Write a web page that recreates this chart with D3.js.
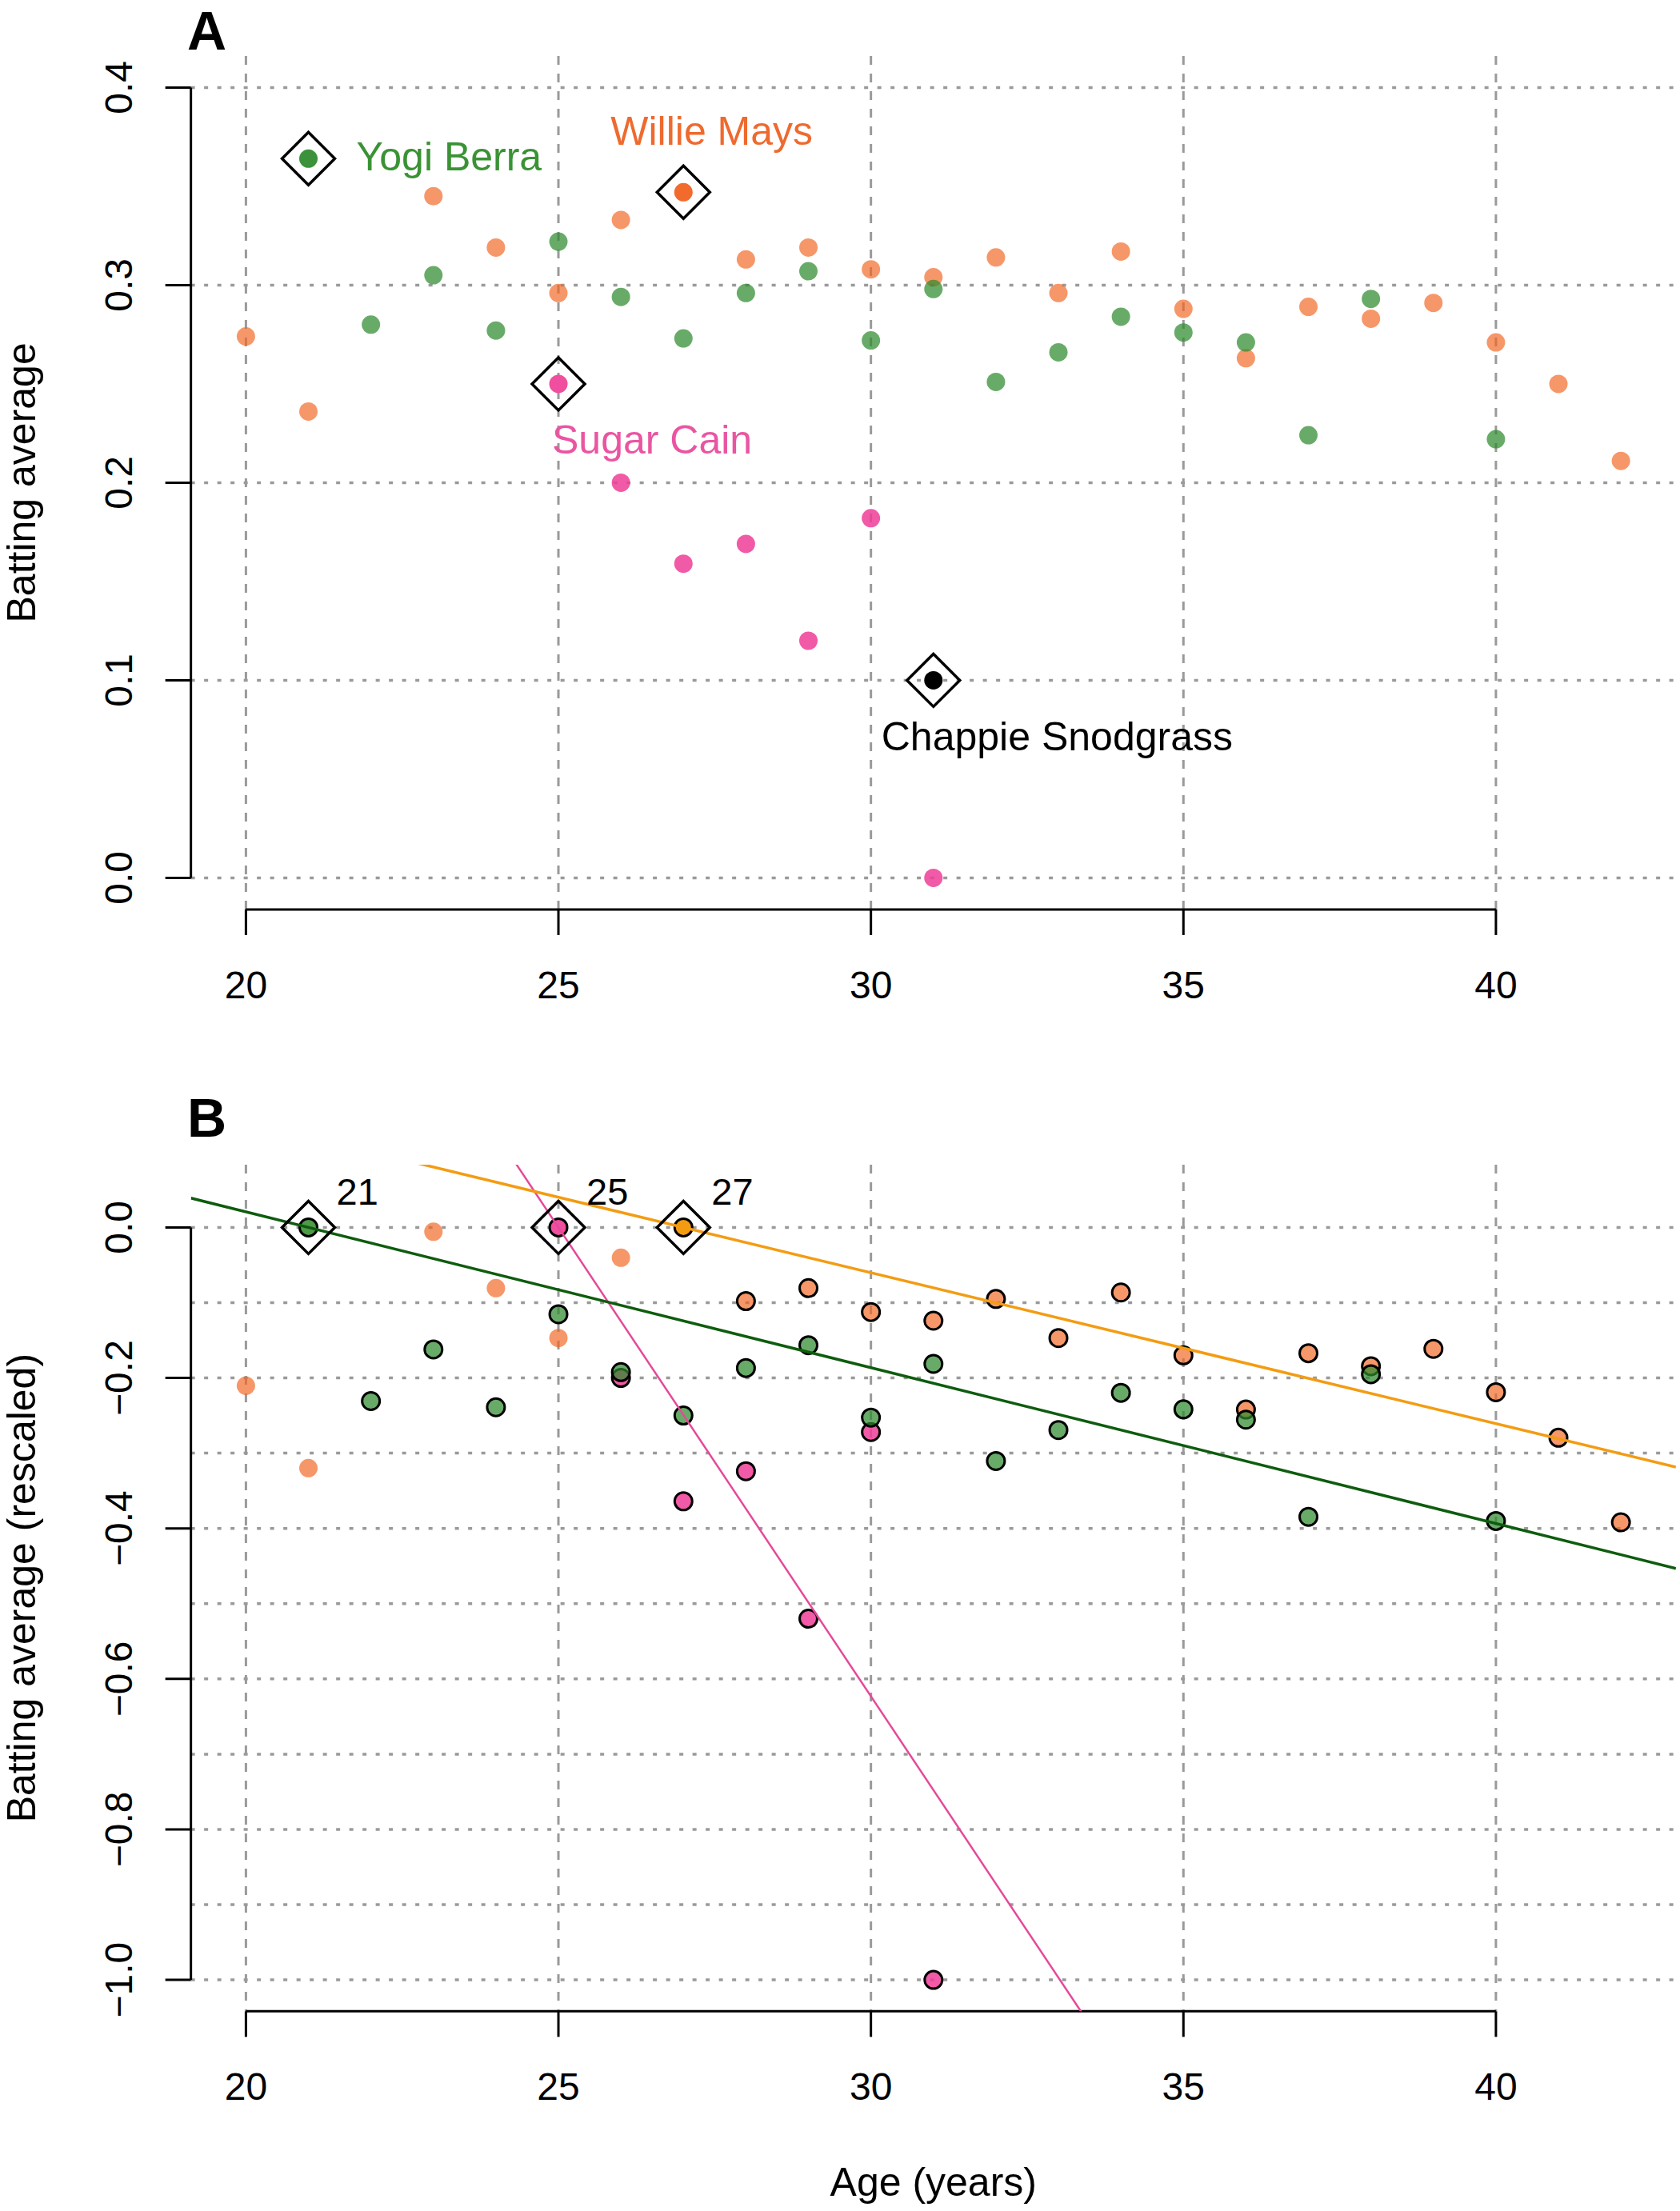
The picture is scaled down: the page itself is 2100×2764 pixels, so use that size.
<!DOCTYPE html>
<html>
<head>
<meta charset="utf-8">
<script src="https://cdn.jsdelivr.net/npm/d3@7"></script>
<style>
  body { margin: 0; background: #fff; }
  svg { display: block; }
  text { font-family: "Liberation Sans", Arial, Helvetica, sans-serif; }
</style>
</head>
<body>
<div id="content"></div>
<script>
// ---- data (season batting averages by age) ----
const maysAges = [20, 21, 23, 24, 25, 26, 27, 28, 29, 30, 31, 32, 33, 34, 35, 36, 37, 38, 39, 40, 41, 42];
const maysAvg  = [.274, .236, .345, .319, .296, .333, .347, .313, .319, .308, .304, .314, .296, .317, .288, .263, .289, .283, .291, .271, .250, .211];

const berraAges = [21, 22, 23, 24, 25, 26, 27, 28, 29, 30, 31, 32, 33, 34, 35, 36, 37, 38, 40];
const berraAvg  = [.364, .280, .305, .277, .322, .294, .273, .296, .307, .272, .298, .251, .266, .284, .276, .271, .224, .293, .222];

const cainAges = [25, 26, 27, 28, 29, 30, 31];
const cainAvg  = [.250, .200, .159, .169, .120, .182, .000];

const snodgrassAges = [31];
const snodgrassAvg  = [.100];

const xTicks  = [20, 25, 30, 35, 40];
const yTicksA = [0, 0.1, 0.2, 0.3, 0.4];
const yTicksB = [0, -0.2, -0.4, -0.6, -0.8, -1.0];
const yGridB  = [0, -0.1, -0.2, -0.3, -0.4, -0.5, -0.6, -0.7, -0.8, -0.9, -1.0];

// ---- series table (style lives here, values come from the arrays) ----
const series = [
  {name: "Sugar Cain", ages: cainAges, avg: cainAvg, fill: "#EE3D96", op: 0.85,
   hiA: "#F04E9E", hiB: "#F04E9E", line: "#E8489A", lineW: 2.5, labelColor: "#EA55A2", dx: -8, dy: 87},
  {name: "Willie Mays", ages: maysAges, avg: maysAvg, fill: "#F26522", op: 0.68,
   hiA: "#F26A2C", hiB: "#F59B12", line: "#F39C12", lineW: 3.5, labelColor: "#EE6A2E", dx: -91, dy: -59},
  {name: "Yogi Berra", ages: berraAges, avg: berraAvg, fill: "#2E8B2E", op: 0.72,
   hiA: "#3C923A", hiB: "#4E9A48", line: "#0E5C0E", lineW: 3.5, labelColor: "#3A9234", dx: 60, dy: 15}
];
const snodgrass = {name: "Chappie Snodgrass", ages: snodgrassAges, avg: snodgrassAvg, labelColor: "#000", dx: -65, dy: 88};

series.forEach(s => {
  s.pts = s.ages.map((a, i) => ({age: a, v: s.avg[i]}));
  const pk = d3.greatest(s.pts, d => d.v);
  s.peakAge = pk.age; s.peak = pk.v;
  s.pts.forEach(d => { d.r = d.v / s.peak - 1; });
  // least squares through the peak, using the seasons from the peak on
  const after = s.pts.filter(d => d.age >= s.peakAge);
  s.slope = d3.sum(after, d => (d.age - s.peakAge) * d.r) / d3.sum(after, d => (d.age - s.peakAge) ** 2);
});

const W = 2100, H = 2764;
const svg = d3.select('#content').append('svg')
  .attr('width', W).attr('height', H)
  .attr('viewBox', `0 0 ${W} ${H}`);

const x = d3.scaleLinear().domain([20, 40]).range([307.4, 1869.9]);
const xLo = x(19.12), xHi = x(42.88);

const yA = d3.scaleLinear().domain([0, 0.4]).range([1097.4, 109.4]);
const yB = d3.scaleLinear().domain([-1, 0]).range([2475.1, 1534.4]);

const fmt = d3.format(".1f");
const R = 11.5;

function frame(y, top, bottom, yTicks, yGrid, yLabel, letter, letterY) {
  const g = svg.append('g');
  // grid
  g.selectAll(null).data(yGrid).join('line')
    .attr('x1', xLo).attr('x2', xHi)
    .attr('y1', d => y(d)).attr('y2', d => y(d))
    .attr('stroke', '#9a9a9a').attr('stroke-width', 3.5)
    .attr('stroke-dasharray', '5 11.5');
  g.selectAll(null).data(xTicks).join('line')
    .attr('x1', d => x(d)).attr('x2', d => x(d))
    .attr('y1', top).attr('y2', bottom)
    .attr('stroke', '#9a9a9a').attr('stroke-width', 3)
    .attr('stroke-dasharray', '11 11');

  // y axis
  g.append('line')
    .attr('x1', xLo).attr('x2', xLo)
    .attr('y1', y(d3.min(yTicks))).attr('y2', y(d3.max(yTicks)))
    .attr('stroke', '#000').attr('stroke-width', 3);
  g.selectAll(null).data(yTicks).join('line')
    .attr('x1', xLo - 32).attr('x2', xLo)
    .attr('y1', d => y(d)).attr('y2', d => y(d))
    .attr('stroke', '#000').attr('stroke-width', 3);
  g.selectAll(null).data(yTicks).join('text')
    .attr('transform', d => `translate(165,${y(d)}) rotate(-90)`)
    .attr('text-anchor', 'middle')
    .attr('font-size', 48)
    .text(d => fmt(d));

  // x axis
  g.append('line')
    .attr('x1', x(20)).attr('x2', x(40))
    .attr('y1', bottom).attr('y2', bottom)
    .attr('stroke', '#000').attr('stroke-width', 3);
  g.selectAll(null).data(xTicks).join('line')
    .attr('x1', d => x(d)).attr('x2', d => x(d))
    .attr('y1', bottom).attr('y2', bottom + 32)
    .attr('stroke', '#000').attr('stroke-width', 3);
  g.selectAll(null).data(xTicks).join('text')
    .attr('x', d => x(d)).attr('y', bottom + 111)
    .attr('text-anchor', 'middle')
    .attr('font-size', 48)
    .text(d => d);

  g.append('text')
    .attr('transform', `translate(44,${(top + bottom) / 2}) rotate(-90)`)
    .attr('text-anchor', 'middle')
    .attr('font-size', 50)
    .text(yLabel);

  g.append('text')
    .attr('x', 234).attr('y', letterY)
    .attr('font-size', 68).attr('font-weight', 'bold')
    .text(letter);
  return g;
}

function diamond(g, cx, cy) {
  const h = 33;
  g.append('path')
    .attr('d', `M${cx},${cy - h}L${cx + h},${cy}L${cx},${cy + h}L${cx - h},${cy}Z`)
    .attr('fill', 'none').attr('stroke', '#000').attr('stroke-width', 3.5);
}

// ================= Panel A =================
const topA = yA(0.416), botA = yA(-0.016);
const gA = frame(yA, topA, botA, yTicksA, yTicksA, "Batting average", "A", 62);

series.forEach(s => {
  gA.selectAll(null).data(s.pts.filter(d => d.age !== s.peakAge)).join('circle')
    .attr('cx', d => x(d.age)).attr('cy', d => yA(d.v)).attr('r', R)
    .attr('fill', s.fill).attr('fill-opacity', s.op);
});
gA.selectAll(null).data(snodgrassAges.map((a, i) => ({age: a, v: snodgrassAvg[i]}))).join('circle')
  .attr('cx', d => x(d.age)).attr('cy', d => yA(d.v)).attr('r', R)
  .attr('fill', '#000');

series.forEach(s => {
  const cx = x(s.peakAge), cy = yA(s.peak);
  gA.append('circle').attr('cx', cx).attr('cy', cy).attr('r', R).attr('fill', s.hiA);
  diamond(gA, cx, cy);
  gA.append('text')
    .attr('x', cx + s.dx).attr('y', cy + s.dy)
    .attr('font-size', 50).attr('fill', s.labelColor)
    .text(s.name);
});
{
  const cx = x(snodgrassAges[0]), cy = yA(snodgrassAvg[0]);
  diamond(gA, cx, cy);
  gA.append('text')
    .attr('x', cx + snodgrass.dx).attr('y', cy + snodgrass.dy)
    .attr('font-size', 50).attr('fill', snodgrass.labelColor)
    .text(snodgrass.name);
}

// ================= Panel B =================
const topB = yB(0.0834), botB = yB(-1.0417);
const gB = frame(yB, topB, botB, yTicksB, yGridB, "Batting average (rescaled)", "B", 1421);

svg.append('clipPath').attr('id', 'clipB')
  .append('rect').attr('x', xLo).attr('y', topB).attr('width', xHi - xLo).attr('height', botB - topB);

series.forEach(s => {
  gB.selectAll(null).data(s.pts.filter(d => d.age !== s.peakAge)).join('circle')
    .attr('cx', d => x(d.age)).attr('cy', d => yB(d.r)).attr('r', d => d.age > s.peakAge ? 11 : R)
    .attr('fill', s.fill).attr('fill-opacity', s.op)
    .attr('stroke', d => d.age > s.peakAge ? '#000' : 'none')
    .attr('stroke-width', 3);
});
series.forEach(s => {
  gB.append('circle')
    .attr('cx', x(s.peakAge)).attr('cy', yB(0)).attr('r', 11)
    .attr('fill', s.hiB).attr('stroke', '#000').attr('stroke-width', 3);
});

const lineGen = d3.line().x(d => x(d[0])).y(d => yB(d[1]));
const lines = gB.append('g').attr('clip-path', 'url(#clipB)');
series.forEach(s => {
  const a0 = x.invert(xLo), a1 = x.invert(xHi);
  lines.append('path')
    .attr('d', lineGen([[a0, s.slope * (a0 - s.peakAge)], [a1, s.slope * (a1 - s.peakAge)]]))
    .attr('fill', 'none').attr('stroke', s.line).attr('stroke-width', s.lineW);
});

series.forEach(s => {
  const cx = x(s.peakAge), cy = yB(0);
  diamond(gB, cx, cy);
  gB.append('text')
    .attr('x', cx + 35).attr('y', cy - 28)
    .attr('font-size', 47)
    .text(s.peakAge);
});

svg.append('text')
  .attr('x', (xLo + xHi) / 2).attr('y', 2745)
  .attr('text-anchor', 'middle')
  .attr('font-size', 50)
  .text("Age (years)");
</script>
</body>
</html>
